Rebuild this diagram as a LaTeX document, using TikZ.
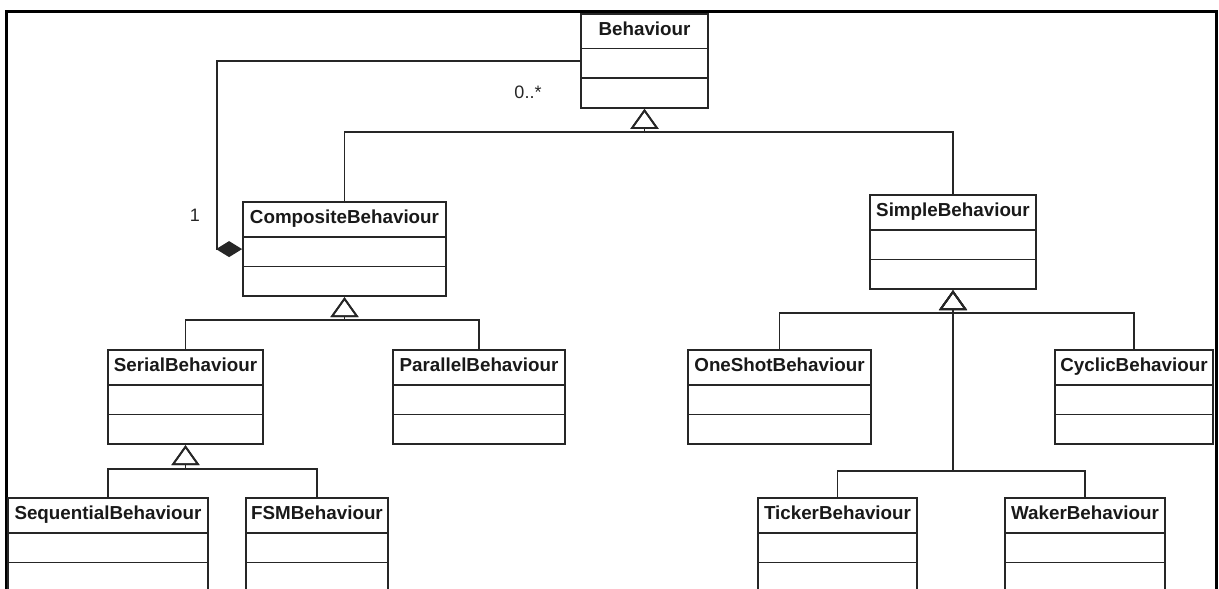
\documentclass[tikz,border=0pt]{standalone}
\usepackage{fontspec}
\setmainfont{Liberation Sans}
\usepackage{tikz}
\usetikzlibrary{shapes.multipart,arrows.meta}

\newcommand{\titlefont}{\fontsize{18.8}{22}\selectfont\bfseries}
\newcommand{\multfont}{\fontsize{18}{20}\selectfont}
% compartments of a class box
\newcommand{\classname}[1]{\rule[-12.5pt]{0pt}{33pt}#1}
\newcommand{\emptypart}{\rule{0pt}{28pt}}

\begin{document}
\begin{tikzpicture}[x=1pt, y=-1pt,
  umlclass/.style={draw=black!85, line width=1.8pt, text=black!90,
    rectangle split, rectangle split parts=3, anchor=north,
    inner xsep=4pt, inner ysep=0pt, font=\titlefont},
  inherit/.style={draw=black!85, line width=1.8pt,
    -{Triangle[open, length=20pt, width=28pt]}},
  compose/.style={draw=black!85, line width=1.8pt,
    -{Diamond[length=26pt, width=16pt]}},
  mult/.style={font=\multfont, text=black!85}
]
\clip (0,0) rectangle (1219,589);
\useasboundingbox (0,0) rectangle (1219,589);

% the frame
\draw[line width=3pt] (6,600) -- (6,11) -- (1216,11) -- (1216,600);

% the classes
\foreach \name/\x/\y/\w/\txt in {
    beh/644.5/12.7/127/Behaviour,
    comp/344.5/201/203/CompositeBehaviour,
    simple/953/194/166/SimpleBehaviour,
    serial/185.5/349/155/SerialBehaviour,
    parallel/479/349/172/ParallelBehaviour,
    oneshot/779.5/349/183/OneShotBehaviour,
    cyclic/1134/349/158/CyclicBehaviour,
    sequential/108/497/200/SequentialBehaviour,
    fsm/317/497/142/FSMBehaviour,
    ticker/837.5/497/159/TickerBehaviour,
    waker/1085/497/160/WakerBehaviour}
    \node[umlclass, minimum width=\w pt] (\name) at (\x,\y)
        {\classname{\txt}\nodepart{two}\emptypart\nodepart{three}\emptypart};

% where the generalisation lines meet
\coordinate (behbus) at (644.5,132);
\coordinate (compbus) at (344.5,320);
\coordinate (serialbus) at (185.5,469);
\coordinate (simplebus) at (953,313);
\coordinate (tickbus) at (953,471);

% the generalisations
\foreach \child in {comp,simple}
    \draw[inherit] (\child.north) |- (behbus) -- (beh.south);
\foreach \child in {serial,parallel}
    \draw[inherit] (\child.north) |- (compbus) -- (comp.south);
\foreach \child in {sequential,fsm}
    \draw[inherit] (\child.north) |- (serialbus) -- (serial.south);
\foreach \child in {oneshot,cyclic}
    \draw[inherit] (\child.north) |- (simplebus) -- (simple.south);
\foreach \child in {ticker,waker}
    \draw[inherit] (\child.north) |- (tickbus) -- (simplebus) -- (simple.south);
\draw[black!85, line width=2.8pt] (tickbus) -- (simplebus);

% the composition and its multiplicities
\draw[compose] (beh.west) -- ++(-363,0) |- (comp.west);
\node[mult] (manyend) at (528,92) {0..*};
\node[mult] (oneend) at (195,215) {1};

\end{tikzpicture}
\end{document}
